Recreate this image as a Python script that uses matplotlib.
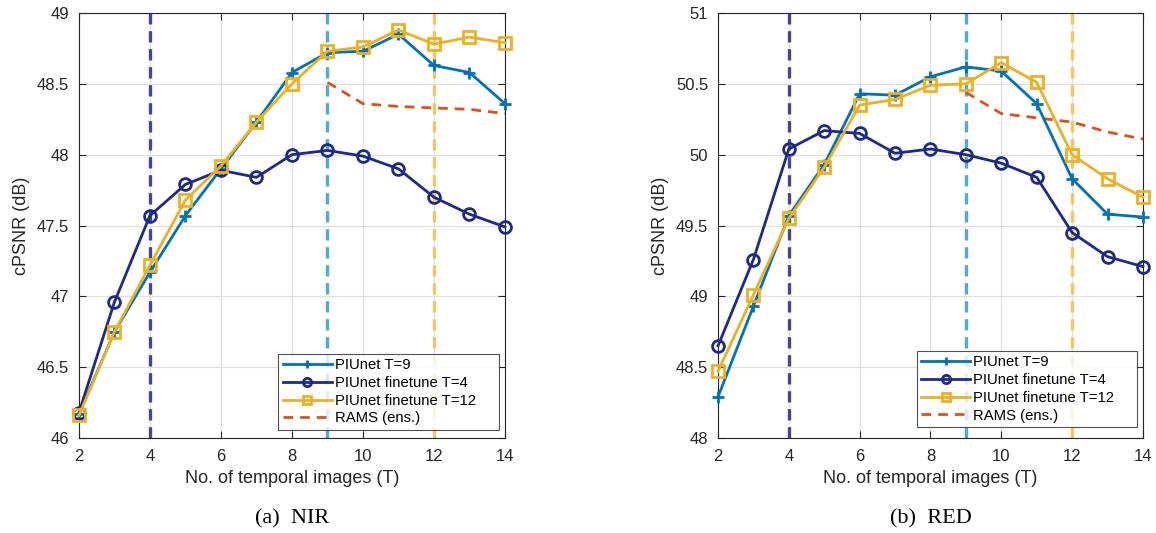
import matplotlib
matplotlib.use("Agg")
import matplotlib.pyplot as plt

plt.rcParams.update({
    "font.family": ["Liberation Sans", "DejaVu Sans"],
    "font.size": 10,
})

T = [2, 3, 4, 5, 6, 7, 8, 9, 10, 11, 12, 13, 14]
T_rams = [9, 10, 11, 12, 13, 14]

nir_t9 = [46.17, 46.75, 47.17, 47.57, 47.90, 48.23, 48.58, 48.72, 48.73, 48.85, 48.63, 48.58, 48.36]
nir_ft4 = [46.18, 46.96, 47.57, 47.79, 47.89, 47.84, 48.00, 48.03, 47.99, 47.90, 47.70, 47.58, 47.49]
nir_ft12 = [46.16, 46.75, 47.22, 47.68, 47.92, 48.23, 48.50, 48.73, 48.76, 48.88, 48.78, 48.83, 48.79]
nir_rams = [48.51, 48.36, 48.34, 48.33, 48.32, 48.29]

red_t9 = [48.29, 48.93, 49.57, 49.93, 50.43, 50.42, 50.55, 50.62, 50.59, 50.36, 49.83, 49.58, 49.56]
red_ft4 = [48.65, 49.26, 50.04, 50.17, 50.15, 50.01, 50.04, 50.00, 49.94, 49.84, 49.45, 49.28, 49.21]
red_ft12 = [48.47, 49.01, 49.55, 49.91, 50.35, 50.39, 50.49, 50.50, 50.65, 50.51, 50.00, 49.83, 49.70]
red_rams = [50.44, 50.29, 50.26, 50.23, 50.16, 50.11]

vlines = [4, 9, 12]
labels = ["PIUnet T=9", "PIUnet finetune T=4", "PIUnet finetune T=12", "RAMS (ens.)"]

C_BLUE = "#0072BD"
C_NAVY = "#1B2A8C"
C_YEL = "#EDB120"
C_ORG = "#D95319"
V_COLS = ["#45468F", "#4FA8DE", "#F2C75C"]
INK = "#262626"

fig = plt.figure(figsize=(11.56, 5.33), dpi=100)
ax1 = fig.add_axes([0.0683, 0.1782, 0.3685, 0.7974])
ax2 = fig.add_axes([0.6211, 0.1782, 0.3676, 0.7974])


def panel(ax, t9, ft4, ft12, rams, ylim, yticks, ylabels, caption, leg_box):
    for x, c in zip(vlines, V_COLS):
        ax.axvline(x, color=c, linestyle=(0, (3.4, 2.0)), linewidth=2.4, zorder=1)
    ax.plot(T, t9, color=C_BLUE, marker="+", markersize=9, markeredgewidth=2,
            linewidth=2, label=labels[0], zorder=3, clip_on=False)
    ax.plot(T, ft4, color=C_NAVY, marker="o", markersize=8.5, markerfacecolor="none",
            markeredgewidth=2, linewidth=2, label=labels[1], zorder=3, clip_on=False)
    ax.plot(T, ft12, color=C_YEL, marker="s", markersize=8, markerfacecolor="none",
            markeredgewidth=2, linewidth=2, label=labels[2], zorder=3, clip_on=False)
    ax.plot(T_rams, rams, color=C_ORG, linestyle=(0, (3.5, 2.5)), linewidth=2,
            label=labels[3], zorder=2)
    ax.set_xlim(2, 14)
    ax.set_ylim(*ylim)
    ax.set_xticks(range(2, 15, 2))
    ax.set_yticks(yticks)
    ax.set_yticklabels(ylabels)
    ax.grid(True, color="#e0e0e0", linewidth=0.9)
    ax.set_axisbelow(True)
    ax.tick_params(direction="in", top=True, right=True, length=5, colors=INK,
                   labelsize=12)
    ax.tick_params(axis="x", pad=8)
    ax.tick_params(axis="y", pad=7)
    for s in ax.spines.values():
        s.set_color(INK)
        s.set_linewidth(0.8)
    ax.set_xlabel("No. of temporal images (T)", fontsize=13, color=INK, labelpad=4)
    ax.set_ylabel("cPSNR (dB)", fontsize=13, color=INK, labelpad=5)
    # MATLAB-style legend box: fixed width, content left aligned
    leg = ax.legend(loc="lower left", bbox_to_anchor=leg_box, mode="expand",
                    fontsize=10.7, frameon=True, fancybox=False, markerscale=0.7,
                    edgecolor=INK, borderpad=0.3, labelspacing=0.25,
                    handlelength=3.3, handletextpad=0.2, borderaxespad=0)
    leg.get_frame().set_linewidth(0.8)
    leg.set_zorder(5)
    ax.text(0.5, -0.19, caption, transform=ax.transAxes, ha="center", va="center",
            fontsize=16, family="Liberation Serif")


panel(ax1, nir_t9, nir_ft4, nir_ft12, nir_rams, (46, 49),
      [46, 46.5, 47, 47.5, 48, 48.5, 49], ["46", "46.5", "47", "47.5", "48", "48.5", "49"],
      "(a)  NIR", (0.468, 0.019, 0.518, 0.18))
panel(ax2, red_t9, red_ft4, red_ft12, red_rams, (48, 51),
      [48, 48.5, 49, 49.5, 50, 50.5, 51], ["48", "48.5", "49", "49.5", "50", "50.5", "51"],
      "(b)  RED", (0.4675, 0.026, 0.519, 0.18))

fig.savefig("out.png", dpi=100)
